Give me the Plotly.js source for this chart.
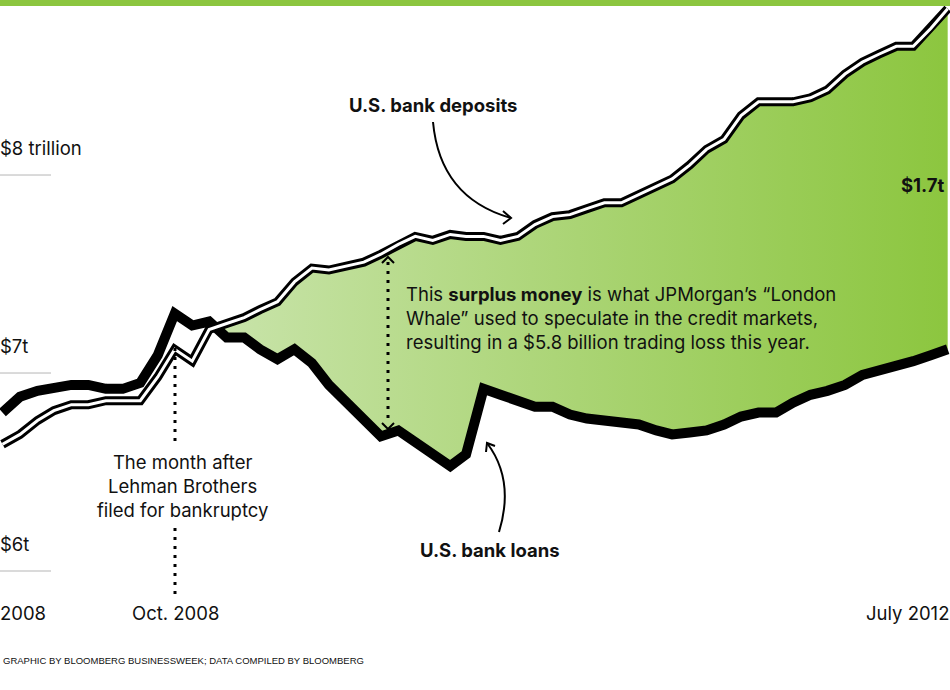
<!DOCTYPE html>
<html>
<head>
<meta charset="utf-8">
<script src="https://cdn.plot.ly/plotly-3.0.1.min.js"></script>
<style>
  html, body { margin: 0; padding: 0; background: #fff; }
  #chart { width: 950px; height: 690px; }
</style>
</head>
<body>
<div id="chart"></div>
<script>
// monthly, Dec 2007 - July 2012
const months = [
  "2007-12",
  "2008-01", "2008-02", "2008-03", "2008-04", "2008-05", "2008-06",
  "2008-07", "2008-08", "2008-09", "2008-10", "2008-11", "2008-12",
  "2009-01", "2009-02", "2009-03", "2009-04", "2009-05", "2009-06",
  "2009-07", "2009-08", "2009-09", "2009-10", "2009-11", "2009-12",
  "2010-01", "2010-02", "2010-03", "2010-04", "2010-05", "2010-06",
  "2010-07", "2010-08", "2010-09", "2010-10", "2010-11", "2010-12",
  "2011-01", "2011-02", "2011-03", "2011-04", "2011-05", "2011-06",
  "2011-07", "2011-08", "2011-09", "2011-10", "2011-11", "2011-12",
  "2012-01", "2012-02", "2012-03", "2012-04", "2012-05", "2012-06",
  "2012-07"
];

// trillions of dollars
const deposits = [
  6.64,
  6.69, 6.76, 6.81, 6.84, 6.84, 6.86, 6.86, 6.86, 6.98, 7.12, 7.06, 7.22,
  7.25, 7.28, 7.32, 7.36, 7.46, 7.53, 7.52, 7.54, 7.56, 7.60, 7.65, 7.69,
  7.67, 7.70, 7.69, 7.69, 7.67, 7.69, 7.75, 7.79, 7.80, 7.83, 7.86, 7.86,
  7.90, 7.94, 7.98, 8.05, 8.13, 8.18, 8.30, 8.37, 8.37, 8.37, 8.39, 8.43,
  8.51, 8.57, 8.61, 8.65, 8.65, 8.74,
  8.84
];

const loans = [
  6.80,
  6.88, 6.91, 6.93, 6.94, 6.94, 6.92, 6.92, 6.95, 7.09, 7.30, 7.24, 7.26,
  7.18, 7.18, 7.12, 7.07, 7.12, 7.05, 6.94, 6.85, 6.76, 6.68, 6.71, 6.65,
  6.59, 6.53, 6.59, 6.92, 6.89, 6.86, 6.83, 6.83, 6.79, 6.77, 6.76, 6.76,
  6.74, 6.71, 6.69, 6.70, 6.71, 6.74, 6.78, 6.80, 6.80, 6.85, 6.89, 6.91,
  6.94, 6.99, 7.01, 7.03, 7.06, 7.09,
  7.12
];

const yTicks = [8, 7, 6];
const yTickText = ["$8 trillion", "$7t", "$6t"];

// surplus shading starts once deposits overtake loans
const gapStart = months.indexOf("2008-12");

// page pixel -> paper fraction (plot fills the whole page)
const W = 950, H = 690;
const px = (x) => x / W;
const py = (y) => 1 - y / H;

const FONT = "Inter, Liberation Sans, Arial, sans-serif";
const SIZE = 18.5;
const INK = "#111";

const traces = [
  {
    x: months.slice(gapStart),
    y: loans.slice(gapStart),
    mode: "lines",
    line: { width: 0 },
    hoverinfo: "skip",
    showlegend: false,
  },
  {
    x: months.slice(gapStart),
    y: deposits.slice(gapStart),
    mode: "lines",
    line: { width: 0 },
    fill: "tonexty",
    fillgradient: {
      type: "horizontal",
      colorscale: [[0, "#c9e4ab"], [0.5, "#aad474"], [1, "#8cc63f"]],
    },
    hoverinfo: "skip",
    showlegend: false,
  },
  {
    x: months,
    y: loans,
    mode: "lines",
    line: { color: "#000", width: 10 },
    name: "U.S. bank loans",
    showlegend: false,
  },
  {
    x: months,
    y: deposits,
    mode: "lines",
    line: { color: "#000", width: 9 },
    name: "U.S. bank deposits",
    showlegend: false,
  },
  {
    x: months,
    y: deposits,
    mode: "lines",
    line: { color: "#fff", width: 3 },
    hoverinfo: "skip",
    showlegend: false,
  },
];

const shapes = [
  // green strip along the top
  { type: "rect", xref: "paper", yref: "paper", x0: 0, x1: 1, y0: py(6), y1: 1,
    fillcolor: "#8cc63f", line: { width: 0 } },
];

// short gridlines at the left edge
yTicks.forEach((v) => {
  shapes.push({ type: "line", xref: "paper", yref: "y", x0: 0, x1: px(51), y0: v, y1: v,
    line: { color: "#b5b5b5", width: 1 } });
});

const dots = { color: "#000", width: 3, dash: "3px,6px" };
const thin = { color: "#000", width: 2 };

// Oct. 2008 marker, above and below its note
shapes.push({ type: "line", xref: "paper", yref: "paper", x0: px(175), x1: px(175),
  y0: py(348), y1: py(442), line: dots });
shapes.push({ type: "line", xref: "paper", yref: "paper", x0: px(175), x1: px(175),
  y0: py(528), y1: py(594), line: dots });

// double arrow showing the gap
shapes.push({ type: "line", xref: "paper", yref: "paper", x0: px(388), x1: px(388),
  y0: py(262), y1: py(424), line: dots });
shapes.push({ type: "path", xref: "paper", yref: "paper",
  path: `M ${px(382)} ${py(263)} L ${px(388)} ${py(257)} L ${px(394)} ${py(263)}`, line: thin });
shapes.push({ type: "path", xref: "paper", yref: "paper",
  path: `M ${px(382)} ${py(423)} L ${px(388)} ${py(429)} L ${px(394)} ${py(423)}`, line: thin });

// curved pointer to the deposits line
shapes.push({ type: "path", xref: "paper", yref: "paper",
  path: `M ${px(433)} ${py(122)} Q ${px(440)} ${py(198)} ${px(511)} ${py(218)}`, line: thin });
shapes.push({ type: "path", xref: "paper", yref: "paper",
  path: `M ${px(503)} ${py(211)} L ${px(511)} ${py(218)} L ${px(503)} ${py(224)}`, line: thin });

// curved pointer to the loans line
shapes.push({ type: "path", xref: "paper", yref: "paper",
  path: `M ${px(499)} ${py(532)} Q ${px(515)} ${py(480)} ${px(487)} ${py(443)}`, line: thin });
shapes.push({ type: "path", xref: "paper", yref: "paper",
  path: `M ${px(486)} ${py(452)} L ${px(487)} ${py(443)} L ${px(495)} ${py(446)}`, line: thin });

const note = (x, y, text, opts) => Object.assign({
  xref: "paper", yref: "paper", x: px(x), y: py(y), text: text,
  showarrow: false, xanchor: "left", yanchor: "top", align: "left",
  font: { family: FONT, size: SIZE, color: INK },
}, opts || {});

const annotations = [
  note(433, 92, "<b>U.S. bank deposits</b>", { xanchor: "center", align: "center" }),
  note(490, 537, "<b>U.S. bank loans</b>", { xanchor: "center", align: "center" }),
  note(947, 172, "<b>$1.7t</b>", { xanchor: "right", align: "right" }),
  note(404, 281, "This <b>surplus money</b> is what JPMorgan’s “London<br>" +
    "Whale” used to speculate in the credit markets,<br>" +
    "resulting in a $5.8 billion trading loss this year."),
  note(182, 449, "The month after<br>Lehman Brothers<br>filed for bankruptcy",
    { xanchor: "center", align: "center" }),
  note(-2, 600, "2008"),
  note(175, 600, "Oct. 2008", { xanchor: "center", align: "center" }),
  note(951, 600, "July 2012", { xanchor: "right", align: "right" }),
  note(1, 653, "GRAPHIC BY BLOOMBERG BUSINESSWEEK; DATA COMPILED BY BLOOMBERG",
    { font: { family: "Liberation Sans, Arial, sans-serif", size: 9.5, color: INK } }),
];

yTicks.forEach((v, i) => {
  annotations.push({
    xref: "paper", yref: "y", x: 0, y: v, text: yTickText[i],
    showarrow: false, xanchor: "left", yanchor: "bottom", yshift: 14, xshift: -2,
    font: { family: FONT, size: SIZE, color: INK },
  });
});

const layout = {
  width: W,
  height: H,
  margin: { l: 0, r: 0, t: 0, b: 0 },
  paper_bgcolor: "#fff",
  plot_bgcolor: "#fff",
  showlegend: false,
  xaxis: {
    type: "date",
    range: ["2007-11-26 14:00", "2012-07-05 02:00"],
    visible: false,
    fixedrange: true,
  },
  yaxis: {
    range: [5.399, 8.884],
    visible: false,
    fixedrange: true,
  },
  shapes: shapes,
  annotations: annotations,
};

Plotly.newPlot("chart", traces, layout, { displayModeBar: false, staticPlot: true });
</script>
</body>
</html>
